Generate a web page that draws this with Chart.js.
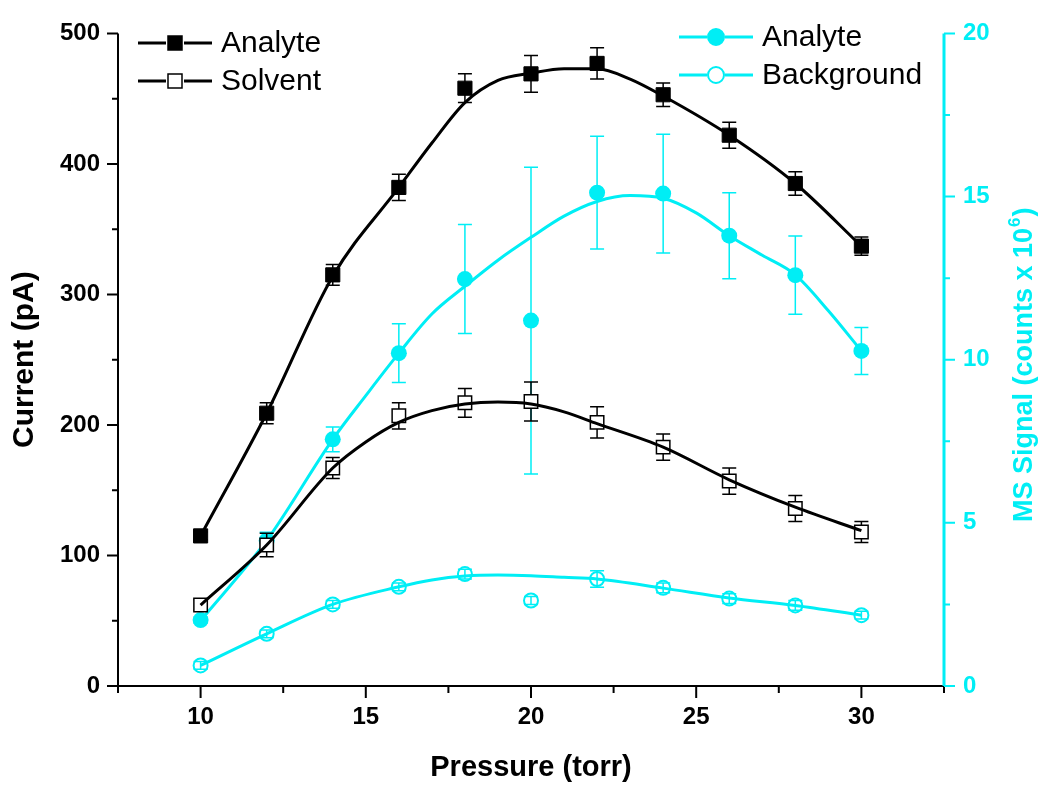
<!DOCTYPE html>
<html>
<head>
<meta charset="utf-8">
<script src="https://cdn.jsdelivr.net/npm/chart.js@4"></script>
<style>
  html, body { margin: 0; padding: 0; background: #fff; }
  #wrap { width: 1050px; height: 792px; }
</style>
</head>
<body>
<div id="wrap"><canvas id="chart" width="1050" height="792"></canvas></div>
<script>
// measured points
const pressure = [10, 12, 14, 16, 18, 20, 22, 24, 26, 28, 30];
const analyteCurrent    = [115, 209, 315, 382, 458, 469, 477, 453, 422, 385, 337];
const analyteCurrentErr = [3, 8, 8, 10, 11, 14, 12, 9, 10, 9, 7];
const solventCurrent    = [62, 108, 167, 207, 217, 218, 202, 183, 157, 136, 118];
const solventCurrentErr = [4, 9, 8, 10, 11, 15, 12, 10, 10, 10, 8];
const analyteMS    = [2.02, 4.46, 7.56, 10.2, 12.47, 11.2, 15.12, 15.09, 13.8, 12.59, 10.27];
const analyteMSErr = [0.1, 0.25, 0.38, 0.9, 1.67, 4.7, 1.73, 1.82, 1.32, 1.2, 0.72];
const backgroundMS    = [0.63, 1.6, 2.5, 3.04, 3.43, 2.62, 3.28, 3.01, 2.68, 2.47, 2.17];
const backgroundMSErr = [0.12, 0.12, 0.12, 0.12, 0.15, 0.12, 0.25, 0.15, 0.15, 0.15, 0.12];

// smooth fit curves
const analyteFitX = [10, 12, 14, 16, 17, 18, 19, 20, 21, 22, 23, 24, 26, 28, 30];
const analyteFit  = [115, 209, 314, 382, 416, 447, 464, 469.5, 473, 473, 465, 452, 422, 385, 337];
const solventFitX = [10, 12, 14, 15, 16, 17, 18, 19, 20, 21, 22, 24, 26, 28, 30];
const solventFit  = [62, 108, 167, 187, 202, 211, 216, 217.5, 216, 210, 201, 183, 158, 137, 119];
const msFitX = [10, 12, 14, 15, 16, 17, 18, 19, 20, 21, 22, 23, 24, 25, 26, 27, 28, 29, 30];
const msFit  = [2.0, 4.46, 7.56, 8.9, 10.2, 11.4, 12.25, 13.05, 13.75, 14.4, 14.85, 15.03, 14.95, 14.5, 13.8, 13.2, 12.6, 11.5, 10.27];
const bgFitX = [10, 12, 14, 16, 17, 18, 19, 20, 21, 22, 24, 26, 28, 30];
const bgFit  = [0.63, 1.6, 2.5, 3.04, 3.25, 3.37, 3.4, 3.38, 3.33, 3.28, 3.0, 2.7, 2.47, 2.17];

// axis ticks
const xTicks = [10, 15, 20, 25, 30];
const xMinor = [7.5, 12.5, 17.5, 22.5, 27.5, 32.5];
const yTicks = [0, 100, 200, 300, 400, 500];
const yMinor = [50, 150, 250, 350, 450];
const y1Ticks = [0, 5, 10, 15, 20];
const y1Minor = [2.5, 7.5, 12.5, 17.5];

const CYAN = '#00eef5';
const FONT = "'Liberation Sans', Arial, sans-serif";

const pts = (xs, ys) => xs.map((x, i) => ({ x, y: ys[i] }));

function curve(label, xs, ys, color, axis) {
    return {
        label, data: pts(xs, ys), yAxisID: axis,
        borderColor: color, borderWidth: 3, pointRadius: 0,
        cubicInterpolationMode: 'monotone', fill: false
    };
}

function markers(label, ys, errs, axis, opts) {
    return Object.assign({
        label, data: pts(pressure, ys), yAxisID: axis, showLine: false,
        errors: errs
    }, opts);
}

const errorBars = {
    id: 'errorBars',
    beforeDatasetDraw(chart, args) { drawBars(chart, args.index, false); },
    afterDatasetDraw(chart, args) { drawBars(chart, args.index, true); }
};

function drawBars(chart, index, onTop) {
    const ds = chart.data.datasets[index];
    if (!ds.errors || !!ds.errorsOnTop !== onTop) return;
    const ctx = chart.ctx;
    const xs = chart.scales.x, ys = chart.scales[ds.yAxisID];
    ctx.save();
    ctx.strokeStyle = ds.errorColor;
    ctx.lineWidth = 1.5;
    ds.data.forEach((p, i) => {
        const px = xs.getPixelForValue(p.x);
        const top = ys.getPixelForValue(p.y + ds.errors[i]);
        const bot = ys.getPixelForValue(p.y - ds.errors[i]);
        ctx.beginPath();
        ctx.moveTo(px, top); ctx.lineTo(px, bot);
        ctx.moveTo(px - 7, top); ctx.lineTo(px + 7, top);
        ctx.moveTo(px - 7, bot); ctx.lineTo(px + 7, bot);
        ctx.stroke();
    });
    ctx.restore();
}

// axis lines, major/minor ticks, right title and the two legends
const frame = {
    id: 'frame',
    afterDraw(chart) {
        const { ctx, chartArea: a, scales: { x, y, y1 } } = chart;
        ctx.save();
        ctx.lineWidth = 2;
        ctx.strokeStyle = '#000';
        ctx.beginPath();
        ctx.moveTo(a.left, a.top); ctx.lineTo(a.left, a.bottom); ctx.lineTo(a.right, a.bottom);
        xTicks.forEach(v => { const p = x.getPixelForValue(v); ctx.moveTo(p, a.bottom); ctx.lineTo(p, a.bottom + 12); });
        xMinor.forEach(v => { const p = x.getPixelForValue(v); ctx.moveTo(p, a.bottom); ctx.lineTo(p, a.bottom + 7); });
        yTicks.forEach(v => { const p = y.getPixelForValue(v); ctx.moveTo(a.left, p); ctx.lineTo(a.left - 11, p); });
        yMinor.forEach(v => { const p = y.getPixelForValue(v); ctx.moveTo(a.left, p); ctx.lineTo(a.left - 6, p); });
        ctx.stroke();

        ctx.strokeStyle = CYAN;
        ctx.lineWidth = 3;
        ctx.beginPath();
        ctx.moveTo(a.right, a.top); ctx.lineTo(a.right, a.bottom);
        ctx.stroke();
        ctx.lineWidth = 2;
        ctx.beginPath();
        y1Ticks.forEach(v => { const p = y1.getPixelForValue(v); ctx.moveTo(a.right, p); ctx.lineTo(a.right + 11, p); });
        y1Minor.forEach(v => { const p = y1.getPixelForValue(v); ctx.moveTo(a.right, p); ctx.lineTo(a.right + 6, p); });
        ctx.stroke();

        // right title, bottom-to-top, with superscript
        ctx.fillStyle = CYAN;
        ctx.translate(1025, (a.top + a.bottom) / 2 + 6);
        ctx.rotate(-Math.PI / 2);
        ctx.textBaseline = 'middle';
        ctx.textAlign = 'left';
        const main = 'MS Signal (counts x 10', sup = '6', end = ')';
        const big = 'bold 27px ' + FONT, small = 'bold 17px ' + FONT;
        ctx.font = big; const w1 = ctx.measureText(main).width, w3 = ctx.measureText(end).width;
        ctx.font = small; const w2 = ctx.measureText(sup).width;
        let sx = -(w1 + w2 + w3) / 2;
        ctx.font = big; ctx.fillText(main, sx, 0); sx += w1;
        ctx.font = small; ctx.fillText(sup, sx + 1, -10); sx += w2 + 2;
        ctx.font = big; ctx.fillText(end, sx, 0);
        ctx.restore();

        const items = [
            { text: 'Analyte', x: 138, y: 43, color: '#000', shape: 'rect', fill: '#000' },
            { text: 'Solvent', x: 138, y: 81, color: '#000', shape: 'rect', fill: '#fff' },
            { text: 'Analyte', x: 679, y: 37, color: CYAN, shape: 'circle', fill: CYAN },
            { text: 'Background', x: 679, y: 75, color: CYAN, shape: 'circle', fill: '#fff' }
        ];
        ctx.save();
        items.forEach(it => {
            const cx = it.x + 37;
            ctx.strokeStyle = it.color;
            ctx.lineWidth = 3;
            ctx.beginPath();
            ctx.moveTo(it.x, it.y); ctx.lineTo(cx - 9, it.y);
            ctx.moveTo(cx + 9, it.y); ctx.lineTo(it.x + 74, it.y);
            ctx.stroke();
            ctx.fillStyle = it.fill;
            ctx.lineWidth = it.shape === 'rect' ? 1.5 : 2;
            ctx.beginPath();
            if (it.shape === 'rect') ctx.rect(cx - 7, it.y - 7, 14, 14);
            else ctx.arc(cx, it.y, 8, 0, Math.PI * 2);
            ctx.fill(); ctx.stroke();
            ctx.fillStyle = '#000';
            ctx.font = '30px ' + FONT;
            ctx.textBaseline = 'middle';
            ctx.fillText(it.text, it.x + 83, it.y + 1);
        });
        ctx.restore();
    }
};

const tickFont = { family: FONT, size: 24, weight: 'bold' };

new Chart(document.getElementById('chart'), {
    type: 'line',
    data: {
        datasets: [
            curve('Analyte fit', analyteFitX, analyteFit, '#000', 'y'),
            curve('Solvent fit', solventFitX, solventFit, '#000', 'y'),
            markers('Analyte', analyteCurrent, analyteCurrentErr, 'y', {
                pointStyle: 'rect', pointRadius: 10, backgroundColor: '#000', borderColor: '#000',
                borderWidth: 1, errorColor: '#000'
            }),
            markers('Solvent', solventCurrent, solventCurrentErr, 'y', {
                pointStyle: 'rect', pointRadius: 9.5, backgroundColor: '#fff', borderColor: '#000',
                borderWidth: 1.5, errorColor: '#000'
            }),
            curve('MS analyte fit', msFitX, msFit, CYAN, 'y1'),
            curve('Background fit', bgFitX, bgFit, CYAN, 'y1'),
            markers('MS Analyte', analyteMS, analyteMSErr, 'y1', {
                pointStyle: 'circle', pointRadius: 8, backgroundColor: CYAN, borderColor: CYAN,
                borderWidth: 0, errorColor: CYAN
            }),
            markers('Background', backgroundMS, backgroundMSErr, 'y1', {
                pointStyle: 'circle', pointRadius: 7, backgroundColor: '#fff', borderColor: CYAN,
                borderWidth: 2, errorColor: CYAN, errorsOnTop: true
            })
        ]
    },
    options: {
        responsive: false,
        animation: false,
        layout: { padding: { top: 22, left: 0, right: 0, bottom: 0 } },
        plugins: { legend: { display: false }, tooltip: { enabled: false } },
        scales: {
            x: {
                type: 'linear', min: 7.5, max: 32.5,
                grid: { display: false, drawTicks: false }, border: { display: false },
                afterBuildTicks: s => { s.ticks = xTicks.map(v => ({ value: v })); },
                afterFit: s => { s.height = 106; },
                ticks: { font: tickFont, color: '#000', padding: 17, maxRotation: 0, autoSkip: false },
                title: { display: true, text: 'Pressure (torr)', color: '#000',
                         font: { family: FONT, size: 29, weight: 'bold' }, padding: { bottom: 7 } }
            },
            y: {
                type: 'linear', position: 'left', min: 0, max: 500,
                grid: { display: false, drawTicks: false }, border: { display: false },
                afterBuildTicks: s => { s.ticks = yTicks.map(v => ({ value: v })); },
                afterFit: s => { s.width = 118; },
                ticks: { font: tickFont, color: '#000', padding: 18, autoSkip: false },
                title: { display: true, text: 'Current (pA)', color: '#000',
                         font: { family: FONT, size: 30, weight: 'bold' }, padding: { top: 7 } }
            },
            y1: {
                type: 'linear', position: 'right', min: 0, max: 20,
                grid: { display: false, drawTicks: false }, border: { display: false },
                afterBuildTicks: s => { s.ticks = y1Ticks.map(v => ({ value: v })); },
                afterFit: s => { s.width = 106; },
                ticks: { font: tickFont, color: CYAN, padding: 19, autoSkip: false }
            }
        }
    },
    plugins: [errorBars, frame]
});
</script>
</body>
</html>
